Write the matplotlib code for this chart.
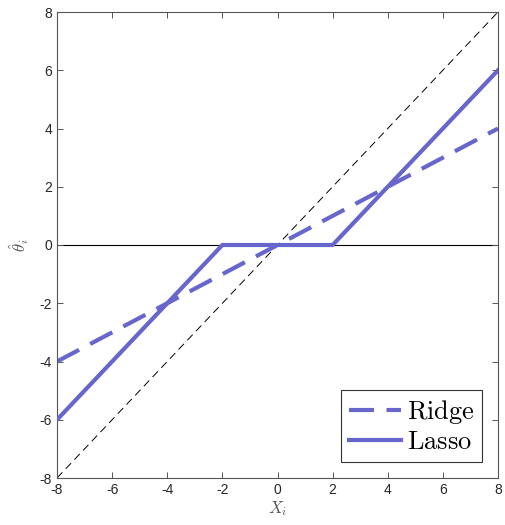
import matplotlib
matplotlib.use("Agg")
import matplotlib.pyplot as plt

plt.rcParams['font.family'] = ['Liberation Sans', 'DejaVu Sans']
plt.rcParams['mathtext.fontset'] = 'cm'
plt.rcParams['axes.unicode_minus'] = False

# data
x_lasso = [-8, -2, 2, 8]
lasso = [-6, 0, 0, 6]
x_ridge = [-8, 8]
ridge = [-4, 4]
x_ident = [-8, 8]
ident = [-8, 8]
ticks = [-8, -6, -4, -2, 0, 2, 4, 6, 8]

blue = '#6666cc'
axis_gray = '#555555'

fig = plt.figure(figsize=(5.05, 5.25), dpi=100)
ax = fig.add_axes([57 / 505, 1 - 478 / 525, 441 / 505, 466 / 525])

ax.axhline(0, color='black', lw=0.8, zorder=1)
ax.plot(x_ident, ident, color='black', lw=0.7, dashes=(8, 5), zorder=1)
ax.plot(x_ridge, ridge, color=blue, lw=3, dashes=(6, 3), label=r'$\mathrm{Ridge}$', zorder=2)
ax.plot(x_lasso, lasso, color=blue, lw=3, label=r'$\mathrm{Lasso}$', zorder=3)

ax.set_xlim(-8, 8)
ax.set_ylim(-8, 8)
ax.set_xticks(ticks)
ax.set_yticks(ticks)
ax.tick_params(direction='in', top=True, right=True, length=4, width=0.7,
               colors=axis_gray, labelcolor='#262626', labelsize=10)
for s in ax.spines.values():
    s.set_color(axis_gray)
    s.set_linewidth(0.8)

ax.set_xlabel(r'$X_i$', fontsize=12, color='#555555', labelpad=2)
ax.set_ylabel(r'$\hat{\theta}_i$', fontsize=12, color='#555555', labelpad=6)

leg = ax.legend(loc='lower right', fontsize=19,
                fancybox=False, framealpha=1, edgecolor='#333333',
                handlelength=2.0, borderpad=0.3, labelspacing=0.15,
                handletextpad=0.2, borderaxespad=0.6)
leg.get_frame().set_linewidth(0.8)

fig.savefig('out.png', dpi=100)
